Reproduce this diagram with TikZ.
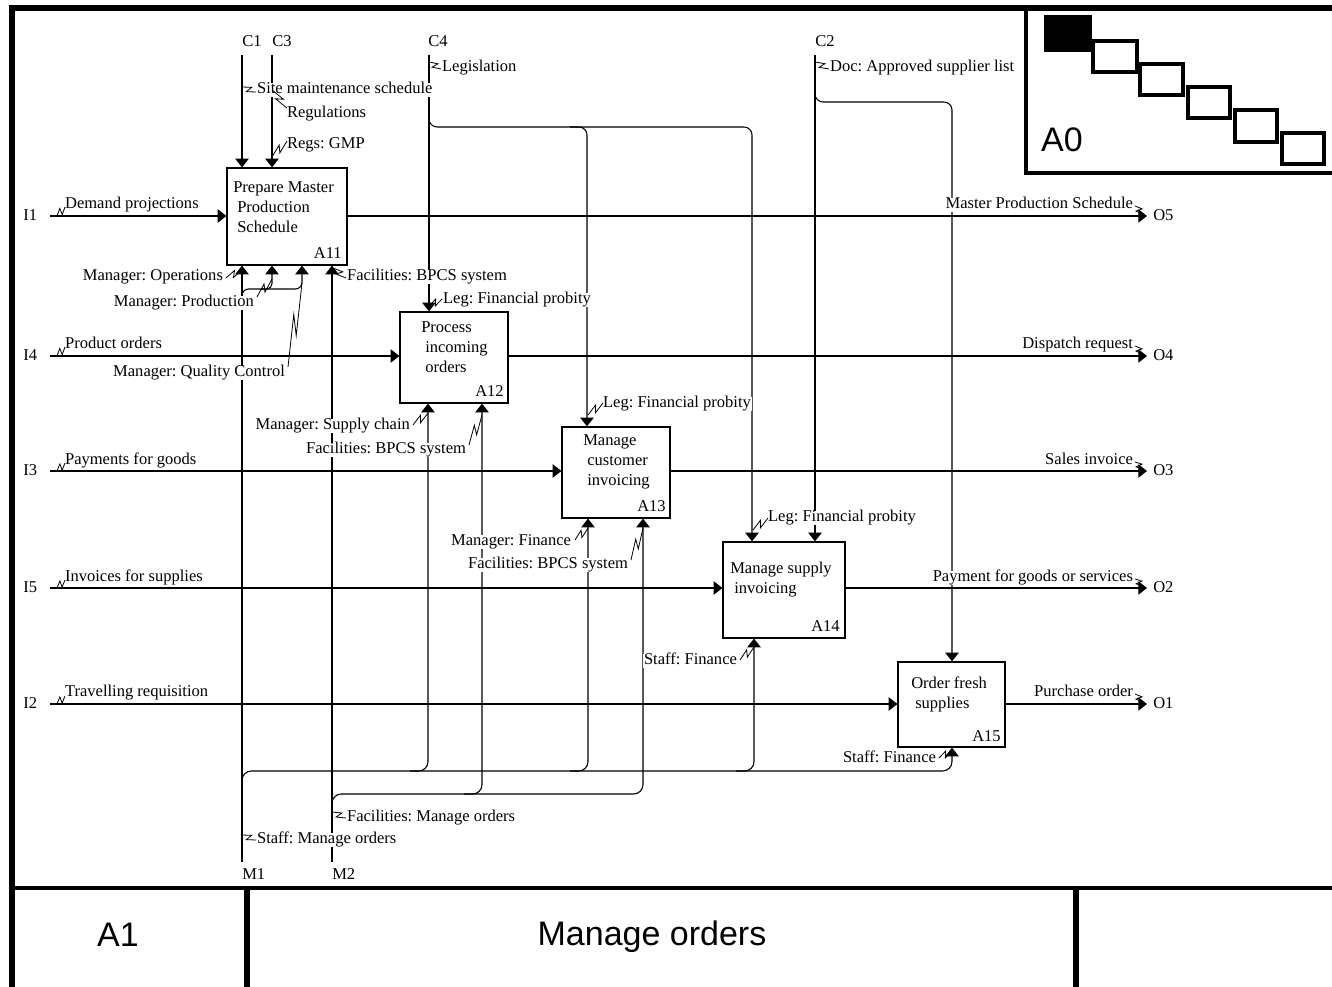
\documentclass[tikz,border=0pt]{standalone}
\usepackage{fontspec}
\setmainfont{Liberation Serif}
\newfontfamily\sansf{Liberation Sans}
\usetikzlibrary{calc,arrows.meta}
\newcommand{\zz}[2]{\draw[sqs] (#1) -- ($(#1)!0.62!(#2)!2.2pt!90:(#2)$) -- ($(#1)!0.38!(#2)!2.2pt!-90:(#2)$) -- (#2);}
\begin{document}
\frenchspacing
\begin{tikzpicture}[x=0.75pt,y=-0.75pt,
  ln/.style={line width=0.8pt},
  arr/.style={ln,-{Triangle[length=6.5pt,width=10pt]}},
  box/.style={draw,line width=0.9pt,inner sep=0pt},
  lab/.style={font=\frenchspacing\fontsize{12.4}{15}\selectfont,inner sep=0.6pt,fill=white,text height=0.69em,text depth=0.22em},
  plain/.style={font=\fontsize{12.4}{15}\selectfont,inner sep=0pt,text height=0.69em,text depth=0.22em},
  btxt/.style={font=\fontsize{12.4}{15}\selectfont,inner sep=0pt,align=left,anchor=west},
  num/.style={font=\fontsize{12.4}{15}\selectfont,inner sep=0pt,anchor=east},
  sqs/.style={line width=0.6pt},
  big/.style={font=\sansf\fontsize{25.5}{30}\selectfont,inner sep=0pt},
  frm/.style={line width=4.5pt},
  nav/.style={line width=2.3pt}]
\useasboundingbox (0,0) rectangle (1332,987);

% boxes
\node[box,minimum width=90pt,minimum height=72.75pt] (A11) at (287,216.5) {};
\node[box,minimum width=81pt,minimum height=68.25pt] (A12) at (454,357.5) {};
\node[box,minimum width=81pt,minimum height=68.25pt] (A13) at (616,472.5) {};
\node[box,minimum width=91.5pt,minimum height=72pt] (A14) at (784,590) {};
\node[box,minimum width=80.25pt,minimum height=63.75pt] (A15) at (951.5,704.5) {};

% controls
\coordinate (c1) at (242,55);
\coordinate (c3) at (272,55);
\coordinate (c4) at (429,55);
\coordinate (c2) at (815,55);
\draw[arr] (c1) -- (c1 |- A11.north);
\draw[arr] (c3) -- (c3 |- A11.north);
\draw[arr] (c4) -- (c4 |- A12.north);
\draw[arr] (c2) -- (c2 |- A14.north);
\coordinate (c4b) at (429,108);
\coordinate (c4h) at (752,127);
\coordinate (c4h2) at (570,127);
\coordinate (x587) at (587,127);
\draw[arr,rounded corners=6pt] (c4b) |- (c4h) -- (c4h |- A14.north);
\draw[arr,rounded corners=6pt] (c4h2) -| (x587 |- A13.north);
\coordinate (c2b) at (815,84);
\coordinate (c2h) at (952,102);
\draw[arr,rounded corners=6pt] (c2b) |- (c2h) -- (c2h |- A15.north);

% inputs
\coordinate (i1) at (50,216);
\coordinate (i4) at (50,356);
\coordinate (i3) at (50,471);
\coordinate (i5) at (50,588);
\coordinate (i2) at (50,704);
\draw[arr] (i1) -- (i1 -| A11.west);
\draw[arr] (i4) -- (i4 -| A12.west);
\draw[arr] (i3) -- (i3 -| A13.west);
\draw[arr] (i5) -- (i5 -| A14.west);
\draw[arr] (i2) -- (i2 -| A15.west);

% outputs
\coordinate (o5) at (1147,216);
\coordinate (o4) at (1147,356);
\coordinate (o3) at (1147,471);
\coordinate (o2) at (1147,588);
\coordinate (o1) at (1147,704);
\draw[arr] (A11.east |- o5) -- (o5);
\draw[arr] (A12.east |- o4) -- (o4);
\draw[arr] (A13.east |- o3) -- (o3);
\draw[arr] (A14.east |- o2) -- (o2);
\draw[arr] (A15.east |- o1) -- (o1);

% mechanisms
\coordinate (m1) at (242,862);
\coordinate (m2) at (332,862);
\draw[arr] (m1) -- (m1 |- A11.south);
\draw[arr] (m2) -- (m2 |- A11.south);
\coordinate (m1a) at (242,299);
\coordinate (k302) at (302,289);
\coordinate (k262) at (261,289);
\coordinate (k272) at (272,289);
\draw[arr,rounded corners=5pt] (m1a) |- (k302) -- (k302 |- A11.south);
\draw[arr,rounded corners=4pt] (k262) -| (k272 |- A11.south);
\coordinate (m1b) at (242,795);
\coordinate (k952) at (952,771);
\draw[arr,rounded corners=7pt] (m1b) |- (k952) -- (k952 |- A15.south);
\coordinate (s428) at (410,771);
\coordinate (b428) at (428,771);
\coordinate (s587) at (570,771);
\coordinate (b587) at (588,771);
\coordinate (s753) at (736,771);
\coordinate (b753) at (754,771);
\draw[arr,rounded corners=7pt] (s428) -| (b428 |- A12.south);
\draw[arr,rounded corners=7pt] (s587) -| (b587 |- A13.south);
\draw[arr,rounded corners=7pt] (s753) -| (b753 |- A14.south);
\coordinate (m2b) at (332,816);
\coordinate (k643) at (643,794);
\draw[arr,rounded corners=7pt] (m2b) |- (k643) -- (k643 |- A13.south);
\coordinate (s482) at (464,794);
\coordinate (b482) at (482,794);
\draw[arr,rounded corners=7pt] (s482) -| (b482 |- A12.south);

% tunnel letters
\node[plain,anchor=west] (lc1) at (242,43) {C1};
\node[plain,anchor=west] (lc3) at (272,43) {C3};
\node[plain,anchor=west] (lc4) at (428,43) {C4};
\node[plain,anchor=west] (lc2) at (815,43) {C2};
\node[plain,anchor=west] (li1) at (23,217) {I1};
\node[plain,anchor=west] (li4) at (23,357) {I4};
\node[plain,anchor=west] (li3) at (23,472) {I3};
\node[plain,anchor=west] (li5) at (23,589) {I5};
\node[plain,anchor=west] (li2) at (23,705) {I2};
\node[plain,anchor=west] (lo5) at (1153,217) {O5};
\node[plain,anchor=west] (lo4) at (1153,357) {O4};
\node[plain,anchor=west] (lo3) at (1153,472) {O3};
\node[plain,anchor=west] (lo2) at (1153,589) {O2};
\node[plain,anchor=west] (lo1) at (1153,705) {O1};
\node[plain,anchor=west] (lm1) at (242,876) {M1};
\node[plain,anchor=west] (lm2) at (332,876) {M2};

% arrow labels
\node[lab,anchor=west] (n1) at (64,205) {Demand projections};
\node[lab,anchor=west] (n2) at (64,345) {Product orders};
\node[lab,anchor=west] (n3) at (64,461) {Payments for goods};
\node[lab,anchor=west] (n4) at (64,578) {Invoices for supplies};
\node[lab,anchor=west] (n5) at (64,693) {Travelling requisition};
\node[lab,anchor=east] (n6) at (1134,205) {Master Production Schedule};
\node[lab,anchor=east] (n7) at (1134,345) {Dispatch request};
\node[lab,anchor=east] (n8) at (1134,461) {Sales invoice};
\node[lab,anchor=east] (n9) at (1134,578) {Payment for goods or services};
\node[lab,anchor=east] (n10) at (1134,693) {Purchase order};
\node[lab,anchor=west] (n11) at (256,90) {Site maintenance schedule};
\node[lab,anchor=west] (n12) at (286,114) {Regulations};
\node[lab,anchor=west] (n13) at (286,145) {Regs: GMP};
\node[lab,anchor=west] (n14) at (441,68) {Legislation};
\node[lab,anchor=west] (n15) at (829,68) {Doc: Approved supplier list};
\node[lab,anchor=east] (n16) at (224,277) {Manager: Operations};
\node[lab,anchor=east] (n17) at (255,303) {Manager: Production};
\node[lab,anchor=east] (n18) at (286,373) {Manager: Quality Control};
\node[lab,anchor=west] (n19) at (346,277) {Facilities: BPCS system};
\node[lab,anchor=west] (n20) at (442,300) {Leg: Financial probity};
\node[lab,anchor=east] (n21) at (411,426) {Manager: Supply chain};
\node[lab,anchor=east] (n22) at (467,450) {Facilities: BPCS system};
\node[lab,anchor=west] (n23) at (602,404) {Leg: Financial probity};
\node[lab,anchor=east] (n24) at (572,542) {Manager: Finance};
\node[lab,anchor=east] (n25) at (629,565) {Facilities: BPCS system};
\node[lab,anchor=west] (n26) at (767,518) {Leg: Financial probity};
\node[lab,anchor=east] (n27) at (738,661) {Staff: Finance};
\node[lab,anchor=east] (n28) at (937,759) {Staff: Finance};
\node[lab,anchor=west] (n29) at (346,818) {Facilities: Manage orders};
\node[lab,anchor=west] (n30) at (256,840) {Staff: Manage orders};

% squiggles
\zz{57,216}{65,207}
\zz{57,356}{65,347}
\zz{57,471}{65,463}
\zz{57,588}{65,580}
\zz{57,704}{65,696}
\zz{1135,206}{1143,214}
\zz{1135,346}{1143,354}
\zz{1135,462}{1143,469}
\zz{1135,579}{1143,586}
\zz{1135,694}{1143,702}
\zz{242,87}{256,92}
\zz{272,90}{287,108}
\zz{272,157}{287,141}
\zz{429,62}{441,69}
\zz{815,62}{829,69}
\zz{226,278}{242,270}
\zz{257,297}{272,279}
\zz{288,367}{302,283}
\zz{333,268}{346,278}
\zz{429,306}{442,299}
\zz{413,425}{428,413}
\zz{469,445}{482,415}
\zz{588,415}{603,403}
\zz{575,540}{588,528}
\zz{631,560}{643,528}
\zz{753,530}{768,518}
\zz{740,660}{754,647}
\zz{939,758}{952,751}
\zz{332,812}{346,818}
\zz{242,835}{256,840}

% box texts
\node[btxt] (t11) at (233,207) {Prepare Master\\\hspace*{3pt}Production\\\hspace*{3pt}Schedule};
\node[btxt] (t12) at (421,347) {Process\\\hspace*{3pt}incoming\\\hspace*{3pt}orders};
\node[btxt] (t13) at (583,462) {Manage\\\hspace*{3pt}customer\\\hspace*{3pt}invoicing};
\node[btxt] (t14) at (730,580) {Manage supply\\\hspace*{3pt}invoicing};
\node[btxt] (t15) at (911,694) {Order fresh\\\hspace*{3pt}supplies};
\node[num] (a11) at (342,253) {A11};
\node[num] (a12) at (504,391) {A12};
\node[num] (a13) at (666,506) {A13};
\node[num] (a14) at (840,626) {A14};
\node[num] (a15) at (1001,736) {A15};

% frame
\draw[frm] (11.7,995) -- (11.7,8.5) -- (1340,8.5);
\draw[line width=3.2pt] (11.7,888) -- (1340,888);
\draw[line width=4pt] (247,888) -- (247,995);
\draw[line width=4pt] (1076,888) -- (1076,995);
\draw[line width=3.4pt] (1026,8.5) -- (1026,173) -- (1340,173);
\draw[nav,fill=black] (1046,17) rectangle (1090,50);
\draw[nav] (1093,41) rectangle (1137,72);
\draw[nav] (1140,64) rectangle (1183,95);
\draw[nav] (1188,87) rectangle (1230,118);
\draw[nav] (1235,110) rectangle (1277,142);
\draw[nav] (1282,133) rectangle (1324,164);
\node[big] (ta0) at (1062,140) {A0};
\node[big] (ta1) at (118,935) {A1};
\node[big] (ttl) at (652,937) {Manage orders};
\end{tikzpicture}
\end{document}
